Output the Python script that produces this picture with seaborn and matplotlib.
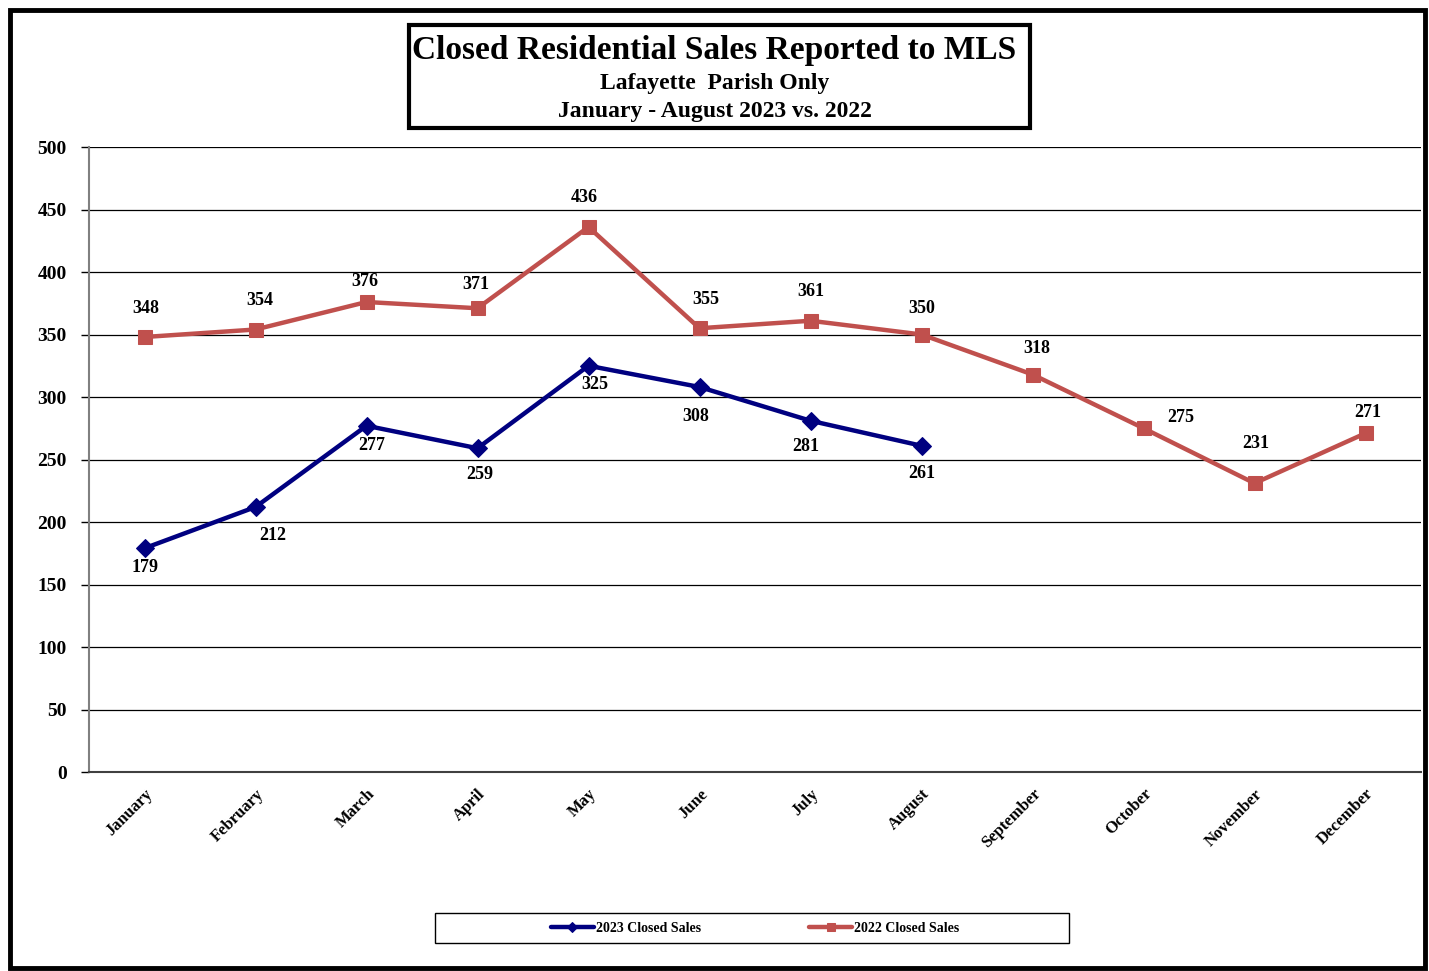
import numpy as np
import pandas as pd
import matplotlib
matplotlib.use("Agg")
import matplotlib.pyplot as plt
from matplotlib.patches import Rectangle
import seaborn as sns

# chart data
months = ["January", "February", "March", "April", "May", "June", "July",
          "August", "September", "October", "November", "December"]
sales_2023 = [179, 212, 277, 259, 325, 308, 281, 261]
sales_2022 = [348, 354, 376, 371, 436, 355, 361, 350, 318, 275, 231, 271]

# label placement (pixels from the marker, +y = up)
lab_off_2023 = [(1, -19), (17, -28), (5, -20), (2, -26), (6, -19), (-4, -29), (-5, -26), (0, -28)]
lab_off_2022 = [(1, 29), (4, 29), (-2, 21), (-2, 24), (-4, 30), (6, 29), (0, 29), (0, 26),
                (4, 26), (37, 11), (1, 40), (2, 21)]

BLUE = "#000080"
RED = "#C0504D"

sns.set_theme(style="white")
plt.rcParams["font.family"] = ["Liberation Serif", "DejaVu Serif"]
plt.rcParams["font.weight"] = "bold"
plt.rcParams["text.color"] = "black"
plt.rcParams["xtick.color"] = "black"
plt.rcParams["ytick.color"] = "black"
plt.rcParams["axes.labelcolor"] = "black"

fig = plt.figure(figsize=(14.29, 9.71), dpi=100)
W, H = 1429, 971


def fx(px):
    return px / W


def fy(py):
    return 1 - py / H


ax = fig.add_axes([fx(89), fy(772), fx(1421) - fx(89), fy(147) - fy(772)])

df23 = pd.DataFrame({"x": np.arange(len(sales_2023)), "y": sales_2023})
df22 = pd.DataFrame({"x": np.arange(len(sales_2022)), "y": sales_2022})

sns.lineplot(data=df23, x="x", y="y", ax=ax, color=BLUE, lw=3.2, marker="D",
             markersize=9, markeredgecolor=BLUE, label="2023 Closed Sales", zorder=4)
sns.lineplot(data=df22, x="x", y="y", ax=ax, color=RED, lw=3.2, marker="s",
             markersize=10, markeredgecolor=RED, label="2022 Closed Sales", zorder=3)

# data labels (offsets converted px -> points at 100 dpi)
for i, v in enumerate(sales_2023):
    dx, dy = lab_off_2023[i]
    ax.annotate(str(v), (i, v), xytext=(dx * 0.72, dy * 0.72), textcoords="offset points",
                ha="center", va="center", fontsize=13, fontweight="bold")
for i, v in enumerate(sales_2022):
    dx, dy = lab_off_2022[i]
    ax.annotate(str(v), (i, v), xytext=(dx * 0.72, dy * 0.72), textcoords="offset points",
                ha="center", va="center", fontsize=13, fontweight="bold")

ax.set_xlim(-0.5, 11.5)
ax.set_ylim(0, 500)
ax.set_yticks(range(0, 501, 50))
ax.set_yticklabels([str(t) for t in range(0, 501, 50)], fontsize=14, fontweight="bold")
ax.set_xticks(np.arange(12))
ax.set_xticklabels(months, rotation=45, ha="right", rotation_mode="anchor",
                   fontsize=12, fontweight="bold")
ax.set_xticks(np.arange(-0.5, 12, 1), minor=True)
ax.tick_params(axis="x", which="major", length=0, pad=10)
ax.tick_params(axis="x", which="minor", length=6, width=1, color="black", direction="out")
ax.tick_params(axis="y", length=6, width=1, color="black", direction="out", left=True, pad=10)
ax.set_xlabel("")
ax.set_ylabel("")

ax.yaxis.grid(True, color="black", lw=0.9)
ax.set_axisbelow(True)
for s in ["top", "right"]:
    ax.spines[s].set_visible(False)
ax.spines["left"].set_color("#808080")
ax.spines["left"].set_linewidth(1.5)
ax.spines["bottom"].set_color("#404040")
ax.spines["bottom"].set_linewidth(1.5)

# legend: entries centred in a fixed box drawn separately
fig.patches.append(Rectangle((fx(435), fy(943)), fx(1069) - fx(435), fy(913) - fy(943),
                             transform=fig.transFigure, fill=False, edgecolor="black",
                             lw=1.0))
leg = ax.legend(loc="center", ncol=2, bbox_to_anchor=(fx(755), fy(928)),
                bbox_transform=fig.transFigure, frameon=False,
                handlelength=3.1, handletextpad=0.15, borderaxespad=0,
                prop={"family": "Liberation Serif", "size": 10, "weight": "bold"},
                markerscale=0.6, columnspacing=7.8)

# title box
fig.patches.append(Rectangle((fx(409), fy(128)), fx(1030) - fx(409), fy(25) - fy(128),
                             transform=fig.transFigure, fill=False, edgecolor="black",
                             lw=3))
fig.text(0.5, fy(50), "Closed Residential Sales Reported to MLS", ha="center", va="center",
         fontsize=24, fontweight="bold")
fig.text(0.5, fy(83), "Lafayette  Parish Only", ha="center", va="center",
         fontsize=17, fontweight="bold")
fig.text(0.5, fy(111), "January - August 2023 vs. 2022", ha="center", va="center",
         fontsize=17, fontweight="bold")

# outer border
fig.patches.append(Rectangle((fx(10), fy(968)), fx(1425) - fx(10), fy(10) - fy(968),
                             transform=fig.transFigure, fill=False, edgecolor="black",
                             lw=3.5))

fig.savefig("out.png", dpi=100)
